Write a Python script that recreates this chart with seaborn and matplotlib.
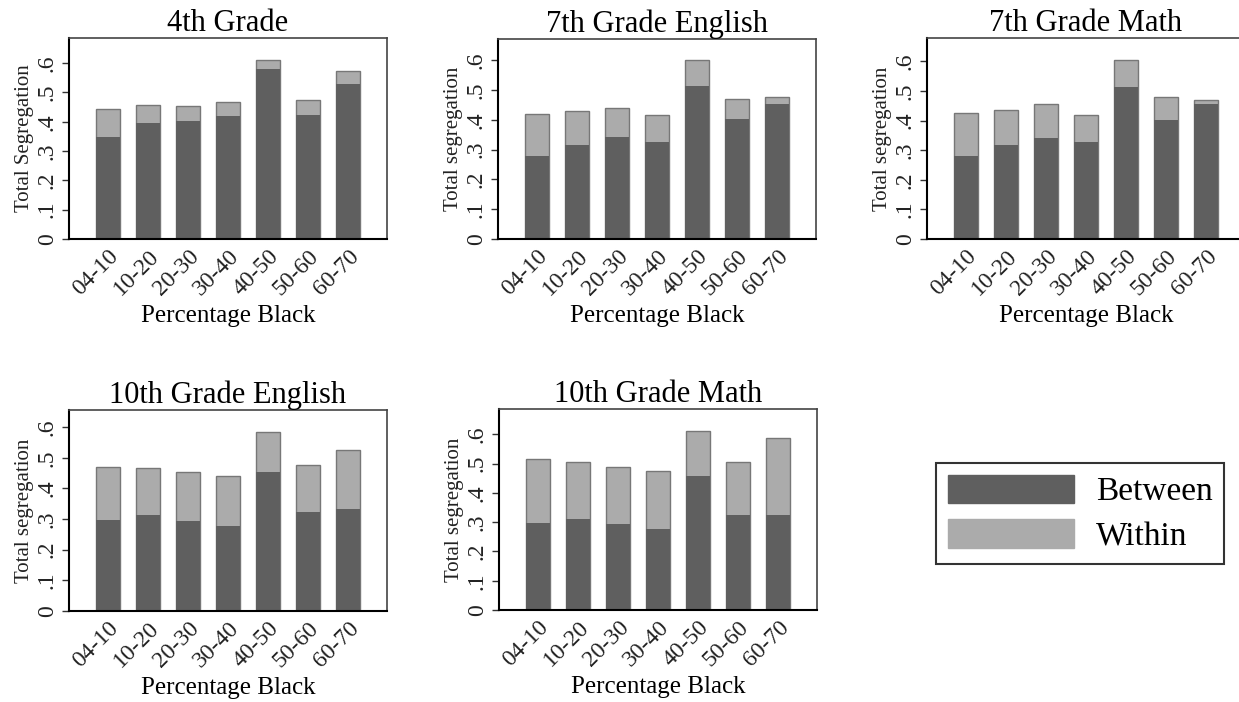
import matplotlib
matplotlib.use("Agg")
import matplotlib.pyplot as plt
import matplotlib.patches as mpatches
import pandas as pd
import seaborn as sns

groups = ["04-10", "10-20", "20-30", "30-40", "40-50", "50-60", "60-70"]

titles = ["4th Grade", "7th Grade English", "7th Grade Math",
          "10th Grade English", "10th Grade Math"]
ylabels = ["Total Segregation", "Total segregation", "Total segregation",
           "Total segregation", "Total segregation"]

# between-school part and total (between + within) for each panel
between_4 = [0.348, 0.395, 0.401, 0.420, 0.581, 0.424, 0.530]
total_4 = [0.443, 0.456, 0.455, 0.468, 0.612, 0.475, 0.572]

between_7e = [0.278, 0.314, 0.342, 0.326, 0.513, 0.402, 0.454]
total_7e = [0.418, 0.430, 0.439, 0.417, 0.599, 0.468, 0.477]

between_7m = [0.279, 0.316, 0.342, 0.326, 0.513, 0.403, 0.457]
total_7m = [0.426, 0.437, 0.457, 0.420, 0.606, 0.481, 0.470]

between_10e = [0.298, 0.312, 0.293, 0.278, 0.455, 0.322, 0.333]
total_10e = [0.470, 0.468, 0.453, 0.442, 0.586, 0.476, 0.526]

between_10m = [0.297, 0.311, 0.294, 0.278, 0.456, 0.325, 0.323]
total_10m = [0.516, 0.506, 0.490, 0.476, 0.613, 0.507, 0.589]

between_all = [between_4, between_7e, between_7m, between_10e, between_10m]
total_all = [total_4, total_7e, total_7m, total_10e, total_10m]

between_color = "#5f5f5f"
within_color = "#ababab"
edge_color = "#777777"

W, H = 1239, 702
# axes boxes in pixels: left, top, right, bottom
boxes = [
    (69, 38, 387, 239),
    (498, 39, 816, 239),
    (927, 38, 1245, 239),
    (69, 410, 387, 611),
    (499, 409, 817, 610),
]

plt.rcParams["font.family"] = ["Liberation Serif", "DejaVu Serif"]

fig = plt.figure(figsize=(W / 100, H / 100), dpi=100)

for i in range(5):
    l, t, r, b = boxes[i]
    ax = fig.add_axes([l / W, 1 - b / H, (r - l) / W, (b - t) / H])
    df = pd.DataFrame({"group": groups, "total": total_all[i], "between": between_all[i]})
    sns.barplot(data=df, x="group", y="total", color=within_color, saturation=1,
                width=0.58, edgecolor=edge_color, linewidth=1.0, ax=ax)
    sns.barplot(data=df, x="group", y="between", color=between_color, saturation=1,
                width=0.58, edgecolor=edge_color, linewidth=0.0, ax=ax)
    ax.set_xlim(-0.975, 6.975)
    ax.set_ylim(0, max(total_all[i]) * 1.12)
    ax.set_yticks([0, 0.1, 0.2, 0.3, 0.4, 0.5, 0.6])
    ax.set_yticklabels(["0", ".1", ".2", ".3", ".4", ".5", ".6"], rotation=90,
                       va="center", fontsize=17, color="#222222")
    ax.set_xticks(range(len(groups)))
    ax.set_xticklabels(groups, rotation=45, ha="right", rotation_mode="anchor",
                       fontsize=17, color="#222222")
    ax.tick_params(axis="x", length=0, pad=5)
    ax.tick_params(axis="y", length=5, width=1, pad=3, color="#333333")
    ax.set_title(titles[i], fontsize=22, pad=3)
    ax.set_ylabel(ylabels[i], fontsize=15, labelpad=2, color="#222222")
    ax.set_xlabel("Percentage Black", fontsize=18, labelpad=4)
    for side in ["left", "bottom"]:
        ax.spines[side].set_color("black")
        ax.spines[side].set_linewidth(1.5)
    for side in ["top", "right"]:
        ax.spines[side].set_color("#444444")
        ax.spines[side].set_linewidth(1.2)

handles = [mpatches.Patch(color=between_color, label="Between"),
           mpatches.Patch(color=within_color, label="Within")]
leg = fig.legend(handles=handles, loc="upper left",
                 bbox_to_anchor=(936 / W, 1 - 463 / H), fontsize=24,
                 frameon=True, fancybox=False, edgecolor="black",
                 handlelength=3.8, handleheight=0.95, handletextpad=0.65,
                 labelspacing=0.35, borderpad=0.35, borderaxespad=0)
leg.get_frame().set_linewidth(1.5)

fig.savefig("out.png", dpi=100)
